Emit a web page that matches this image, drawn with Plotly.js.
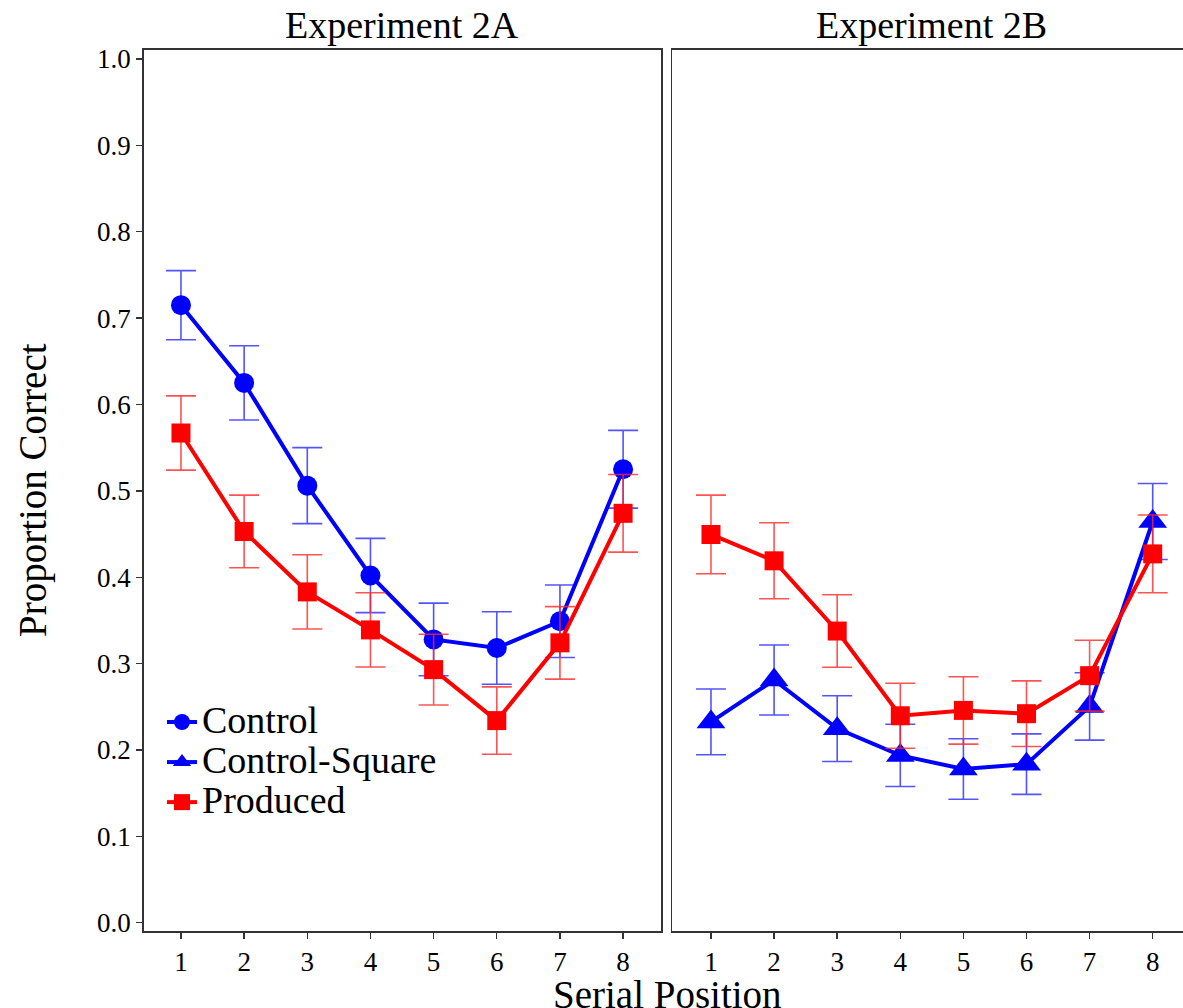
<!DOCTYPE html>
<html>
<head>
<meta charset="utf-8">
<script src="https://cdn.plot.ly/plotly-3.0.1.min.js"></script>
<style>html,body{margin:0;padding:0;background:#fff;}#chart{width:1183px;height:1008px;}</style>
</head>
<body>
<div id="chart"></div>
<script>
// ---- data ----
const serialPos = [1, 2, 3, 4, 5, 6, 7, 8];
const tickLabels = ['1', '2', '3', '4', '5', '6', '7', '8'];
const yTickVals = [0, 0.1, 0.2, 0.3, 0.4, 0.5, 0.6, 0.7, 0.8, 0.9, 1.0];
const yTickText = ['0.0', '0.1', '0.2', '0.3', '0.4', '0.5', '0.6', '0.7', '0.8', '0.9', '1.0'];

// Experiment 2A
const exp2A_control = [0.715, 0.625, 0.506, 0.402, 0.328, 0.318, 0.349, 0.525];
const exp2A_control_se = [0.040, 0.043, 0.044, 0.043, 0.042, 0.042, 0.042, 0.045];
const exp2A_produced = [0.567, 0.453, 0.383, 0.339, 0.293, 0.234, 0.324, 0.474];
const exp2A_produced_se = [0.043, 0.042, 0.043, 0.043, 0.041, 0.039, 0.042, 0.045];

// Experiment 2B
const exp2B_controlSquare = [0.2325, 0.281, 0.2247, 0.1937, 0.178, 0.1836, 0.2504, 0.4645];
const exp2B_controlSquare_se = [0.038, 0.0405, 0.038, 0.036, 0.035, 0.035, 0.039, 0.044];
const exp2B_produced = [0.4495, 0.419, 0.3377, 0.2396, 0.2458, 0.242, 0.286, 0.427];
const exp2B_produced_se = [0.0455, 0.044, 0.042, 0.0376, 0.039, 0.038, 0.041, 0.045];

const panelTitles = ['Experiment 2A', 'Experiment 2B'];
const legendNames = ['Control', 'Control-Square', 'Produced'];
const xTitle = 'Serial Position';
const yTitle = 'Proportion Correct';

// ---- styles ----
const FONT = '"Liberation Serif", "Times New Roman", serif';
const BLUE = '#0000ff';
const RED = '#ff0000';
const BLUE_ERR = 'rgba(40,40,255,0.8)';
const RED_ERR = 'rgba(255,40,40,0.8)';
const AXCOL = '#333333';

function mkTrace(y, se, name, color, errColor, symbol, size, xa, ya, showlegend) {
  return {
    type: 'scatter', mode: 'lines+markers',
    x: serialPos, y: y, name: '<span style="font-size:38px">' + name + '</span>',
    xaxis: xa, yaxis: ya, showlegend: showlegend,
    line: {color: color, width: 4},
    marker: {color: color, symbol: symbol, size: size},
    error_y: {type: 'data', array: se, symmetric: true, color: errColor, thickness: 1.6, width: 15},
    hoverinfo: 'x+y'
  };
}

const data = [
  mkTrace(exp2A_control, exp2A_control_se, legendNames[0], BLUE, BLUE_ERR, 'circle', 20, 'x', 'y', true),
  mkTrace(exp2B_controlSquare, exp2B_controlSquare_se, legendNames[1], BLUE, BLUE_ERR, 'triangle-up', 25, 'x2', 'y2', true),
  mkTrace(exp2A_produced, exp2A_produced_se, legendNames[2], RED, RED_ERR, 'square', 19, 'x', 'y', true),
  mkTrace(exp2B_produced, exp2B_produced_se, legendNames[2], RED, RED_ERR, 'square', 19, 'x2', 'y2', false)
];

const W = 1183, H = 1008;
const mT = 50, mB = 77;
const plotH = H - mT - mB;
const px2paperY = py => (H - mB - py) / plotH;

const xCommon = {
  tickmode: 'array', tickvals: serialPos, ticktext: tickLabels,
  showline: true, mirror: true, linecolor: AXCOL, linewidth: 1.6,
  ticks: 'outside', ticklen: 6, tickwidth: 1.4, tickcolor: AXCOL,
  tickfont: {family: FONT, size: 27, color: '#000'},
  showgrid: false, zeroline: false, fixedrange: true
};

const layout = {
  width: W, height: H,
  margin: {l: 0, r: 0, t: mT, b: mB, pad: 0},
  paper_bgcolor: '#fff', plot_bgcolor: '#fff',
  font: {family: FONT, color: '#000'},
  showlegend: true,
  legend: {
    x: 162 / W, y: px2paperY(697), xanchor: 'left', yanchor: 'top',
    bgcolor: 'rgba(0,0,0,0)', borderwidth: 0,
    font: {family: FONT, size: 28.5, color: '#000'},
    traceorder: 'normal', itemsizing: 'trace'
  },
  xaxis: Object.assign({}, xCommon, {domain: [143.7 / W, 661 / W], range: [0.41, 8.6], anchor: 'y'}),
  xaxis2: Object.assign({}, xCommon, {domain: [672.3 / W, 1], range: [0.387, 8.48], anchor: 'y2'}),
  yaxis: {
    range: [-0.0096, 1.0104], tickmode: 'array', tickvals: yTickVals, ticktext: yTickText,
    showline: true, mirror: true, linecolor: AXCOL, linewidth: 1.6,
    ticks: 'outside', ticklen: 6, tickwidth: 1.4, tickcolor: AXCOL,
    tickfont: {family: FONT, size: 27, color: '#000'},
    showgrid: false, zeroline: false, anchor: 'x', fixedrange: true
  },
  yaxis2: {
    range: [-0.0096, 1.0104], showticklabels: false, ticks: '',
    showline: true, mirror: false, linecolor: AXCOL, linewidth: 1.6,
    showgrid: false, zeroline: false, anchor: 'x2', fixedrange: true
  },
  annotations: [
    {text: panelTitles[0], xref: 'paper', yref: 'paper', x: 402.3 / W, y: px2paperY(25), xanchor: 'center', yanchor: 'middle', showarrow: false, font: {family: FONT, size: 38, color: '#000'}},
    {text: panelTitles[1], xref: 'paper', yref: 'paper', x: 931.6 / W, y: px2paperY(25), xanchor: 'center', yanchor: 'middle', showarrow: false, font: {family: FONT, size: 38, color: '#000'}},
    {text: xTitle, xref: 'paper', yref: 'paper', x: 667 / W, y: px2paperY(994), xanchor: 'center', yanchor: 'middle', showarrow: false, font: {family: FONT, size: 39, color: '#000'}},
    {text: yTitle, xref: 'paper', yref: 'paper', x: 33 / W, y: px2paperY(490), xanchor: 'center', yanchor: 'middle', textangle: -90, showarrow: false, font: {family: FONT, size: 39, color: '#000'}}
  ]
};

Plotly.newPlot('chart', data, layout, {displayModeBar: false, staticPlot: true});
</script>
</body>
</html>
